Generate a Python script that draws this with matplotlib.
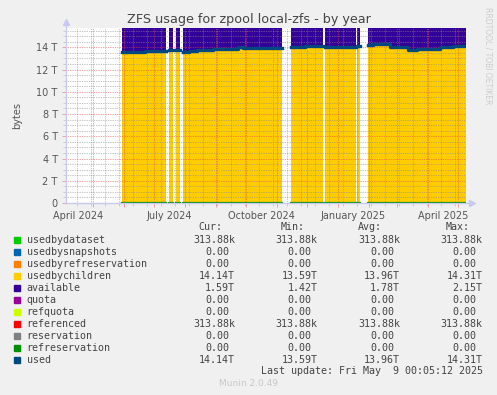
import numpy as np
import pandas as pd
import matplotlib
matplotlib.use("Agg")
import matplotlib.pyplot as plt
import matplotlib.dates as mdates
from matplotlib.patches import Rectangle

# usedbychildren (T) for each stretch of collected data, dates are step edges
seg_dates = [
    ["2024-05-30", "2024-06-22", "2024-07-13"],
    ["2024-07-16", "2024-07-20"],
    ["2024-07-23", "2024-07-27"],
    ["2024-07-30", "2024-08-05", "2024-08-13", "2024-08-29", "2024-09-23", "2024-09-28", "2024-11-06"],
    ["2024-11-15", "2024-11-29", "2024-12-17"],
    ["2024-12-19", "2025-01-19"],
    ["2025-01-20", "2025-01-23"],
    ["2025-01-31", "2025-02-05", "2025-02-22", "2025-03-12", "2025-03-21", "2025-04-13", "2025-04-26", "2025-05-09"],
]
seg_used = [
    [13.59, 13.70],
    [13.72],
    [13.72],
    [13.59, 13.68, 13.78, 13.87, 14.05, 13.93],
    [13.99, 14.12],
    [14.05],
    [14.14],
    [14.17, 14.31, 14.02, 13.78, 13.88, 13.99, 14.14],
]
pool_size = 15.73  # used + available stays constant

x_labels = ["April 2024", "July 2024", "October 2024", "January 2025", "April 2025"]
y_ticks = [0, 2, 4, 6, 8, 10, 12, 14]

names = ["usedbydataset", "usedbysnapshots", "usedbyrefreservation", "usedbychildren",
         "available", "quota", "refquota", "referenced", "reservation",
         "refreservation", "used"]
colors = ["#00CC00", "#0066B3", "#FF8000", "#FFCC00", "#330099", "#990099",
          "#CCFF00", "#FF0000", "#808080", "#008F00", "#00487D"]
cur = ["313.88k", "0.00", "0.00", "14.14T", "1.59T", "0.00", "0.00", "313.88k", "0.00", "0.00", "14.14T"]
mins = ["313.88k", "0.00", "0.00", "13.59T", "1.42T", "0.00", "0.00", "313.88k", "0.00", "0.00", "13.59T"]
avgs = ["313.88k", "0.00", "0.00", "13.96T", "1.78T", "0.00", "0.00", "313.88k", "0.00", "0.00", "13.96T"]
maxs = ["313.88k", "0.00", "0.00", "14.31T", "2.15T", "0.00", "0.00", "313.88k", "0.00", "0.00", "14.31T"]

end = pd.Timestamp("2025-05-09 00:05")
start = end - pd.Timedelta(days=400)

W, H = 497, 395
fig = plt.figure(figsize=(W / 100, H / 100), dpi=100, facecolor="#F0F0F0")
ax = fig.add_axes([66 / W, 1 - 203 / H, 400 / W, (203 - 27.7) / H])
ax.set_facecolor("white")

for d, u in zip(seg_dates, seg_used):
    x = mdates.date2num(pd.to_datetime(d))
    y = np.array(u + [u[-1]])
    ax.fill_between(x, 0, y, step="post", color="#FFCC00", lw=0, zorder=1)
    ax.fill_between(x, y, pool_size, step="post", color="#330099", lw=0, zorder=1)
    ax.step(x, np.zeros_like(y), where="post", color="#008F00", lw=1.6, zorder=3)
    ax.step(x, y, where="post", color="#00487D", lw=2.4, zorder=3)

ax.set_xlim(mdates.date2num(start), mdates.date2num(end))
ax.set_ylim(0, 15.76)

# grid like rrdtool: red monthly / 2T, grey bi-weekly / 0.5T
ax.set_xticks(mdates.date2num(pd.date_range("2024-05-01", end, freq="MS")))
ax.set_xticks(mdates.date2num(pd.date_range("2024-04-15", end, freq="14D")), minor=True)
ax.set_yticks(y_ticks)
ax.set_yticklabels(["0"] + ["%d T" % v for v in y_ticks[1:]])
ax.set_yticks(np.arange(0, 15.76, 0.5), minor=True)
ax.set_xticklabels([])
ax.set_axisbelow(False)
ax.grid(which="major", color=(0.9, 0.3, 0.3, 0.4), ls=(0, (1, 1.5)), lw=0.5)
ax.grid(which="minor", color=(0.55, 0.55, 0.55, 0.3), ls=(0, (1, 1.5)), lw=0.5)
ax.tick_params(which="major", length=3, width=0.7, color="#eba0a0", labelsize=7, labelcolor="#555555", pad=3)
ax.tick_params(which="minor", length=2, width=0.7, color="#cccccc")
for s in ax.spines.values():
    s.set_visible(False)

# month labels centred mid-month
for lab in x_labels:
    t = pd.to_datetime("16 " + lab)
    ax.text(mdates.date2num(t), -0.045, lab, transform=ax.get_xaxis_transform(),
            ha="center", va="top", fontsize=7, color="#555555")

# axis lines with arrows
ax.plot([0, 0], [0, 1.03], transform=ax.transAxes, color="#c8c8f0", lw=1, clip_on=False, zorder=5)
ax.plot([0, 1.015], [0, 0], transform=ax.transAxes, color="#c8c8f0", lw=1, clip_on=False, zorder=5)
ax.plot([0], [1.03], transform=ax.transAxes, marker="^", ms=5, color="#c8c8f0", clip_on=False, zorder=5)
ax.plot([1.015], [0], transform=ax.transAxes, marker=">", ms=5, color="#c8c8f0", clip_on=False, zorder=5)

ax.set_ylabel("bytes", fontsize=7, color="#555555", labelpad=10)

fig.text(0.5, 1 - 19 / H, "ZFS usage for zpool local-zfs - by year", ha="center", va="center",
         fontsize=9.2, color="#444444")
fig.text(488 / W, 1 - 56 / H, "RRDTOOL / TOBI OETIKER", rotation=270, ha="center", va="center",
         fontsize=5.5, color="#cccccc")

# legend table
mono = dict(family="DejaVu Sans Mono", fontsize=7.2, color="#444444", va="center")
cw = 6.05
col_end = [235, 317.3, 400, 482.7]
for hdr, xe in zip(["Cur:", "Min:", "Avg:", "Max:"], [222, 305, 382, 470]):
    fig.text(xe / W, 1 - 227.3 / H, hdr, ha="right", **mono)
for i, name in enumerate(names):
    yy = 239.7 + 12 * i
    fig.patches.append(Rectangle((14 / W, 1 - (yy + 3) / H), 6 / W, 6 / H,
                                 transform=fig.transFigure, color=colors[i], figure=fig))
    fig.text(26.7 / W, 1 - yy / H, name, ha="left", **mono)
    for col, xe in zip([cur, mins, avgs, maxs], col_end):
        v = col[i]
        shift = 0 if v[-1].isalpha() else cw
        fig.text((xe - shift) / W, 1 - yy / H, v, ha="right", **mono)
fig.text(482.7 / W, 1 - 371.3 / H, "Last update: Fri May  9 00:05:12 2025", ha="right", **mono)
fig.text(248.7 / W, 1 - 383.3 / H, "Munin 2.0.49", ha="center", va="center",
         fontsize=6.5, color="#c8c8c8")

fig.savefig("out.png", dpi=100, facecolor=fig.get_facecolor())
